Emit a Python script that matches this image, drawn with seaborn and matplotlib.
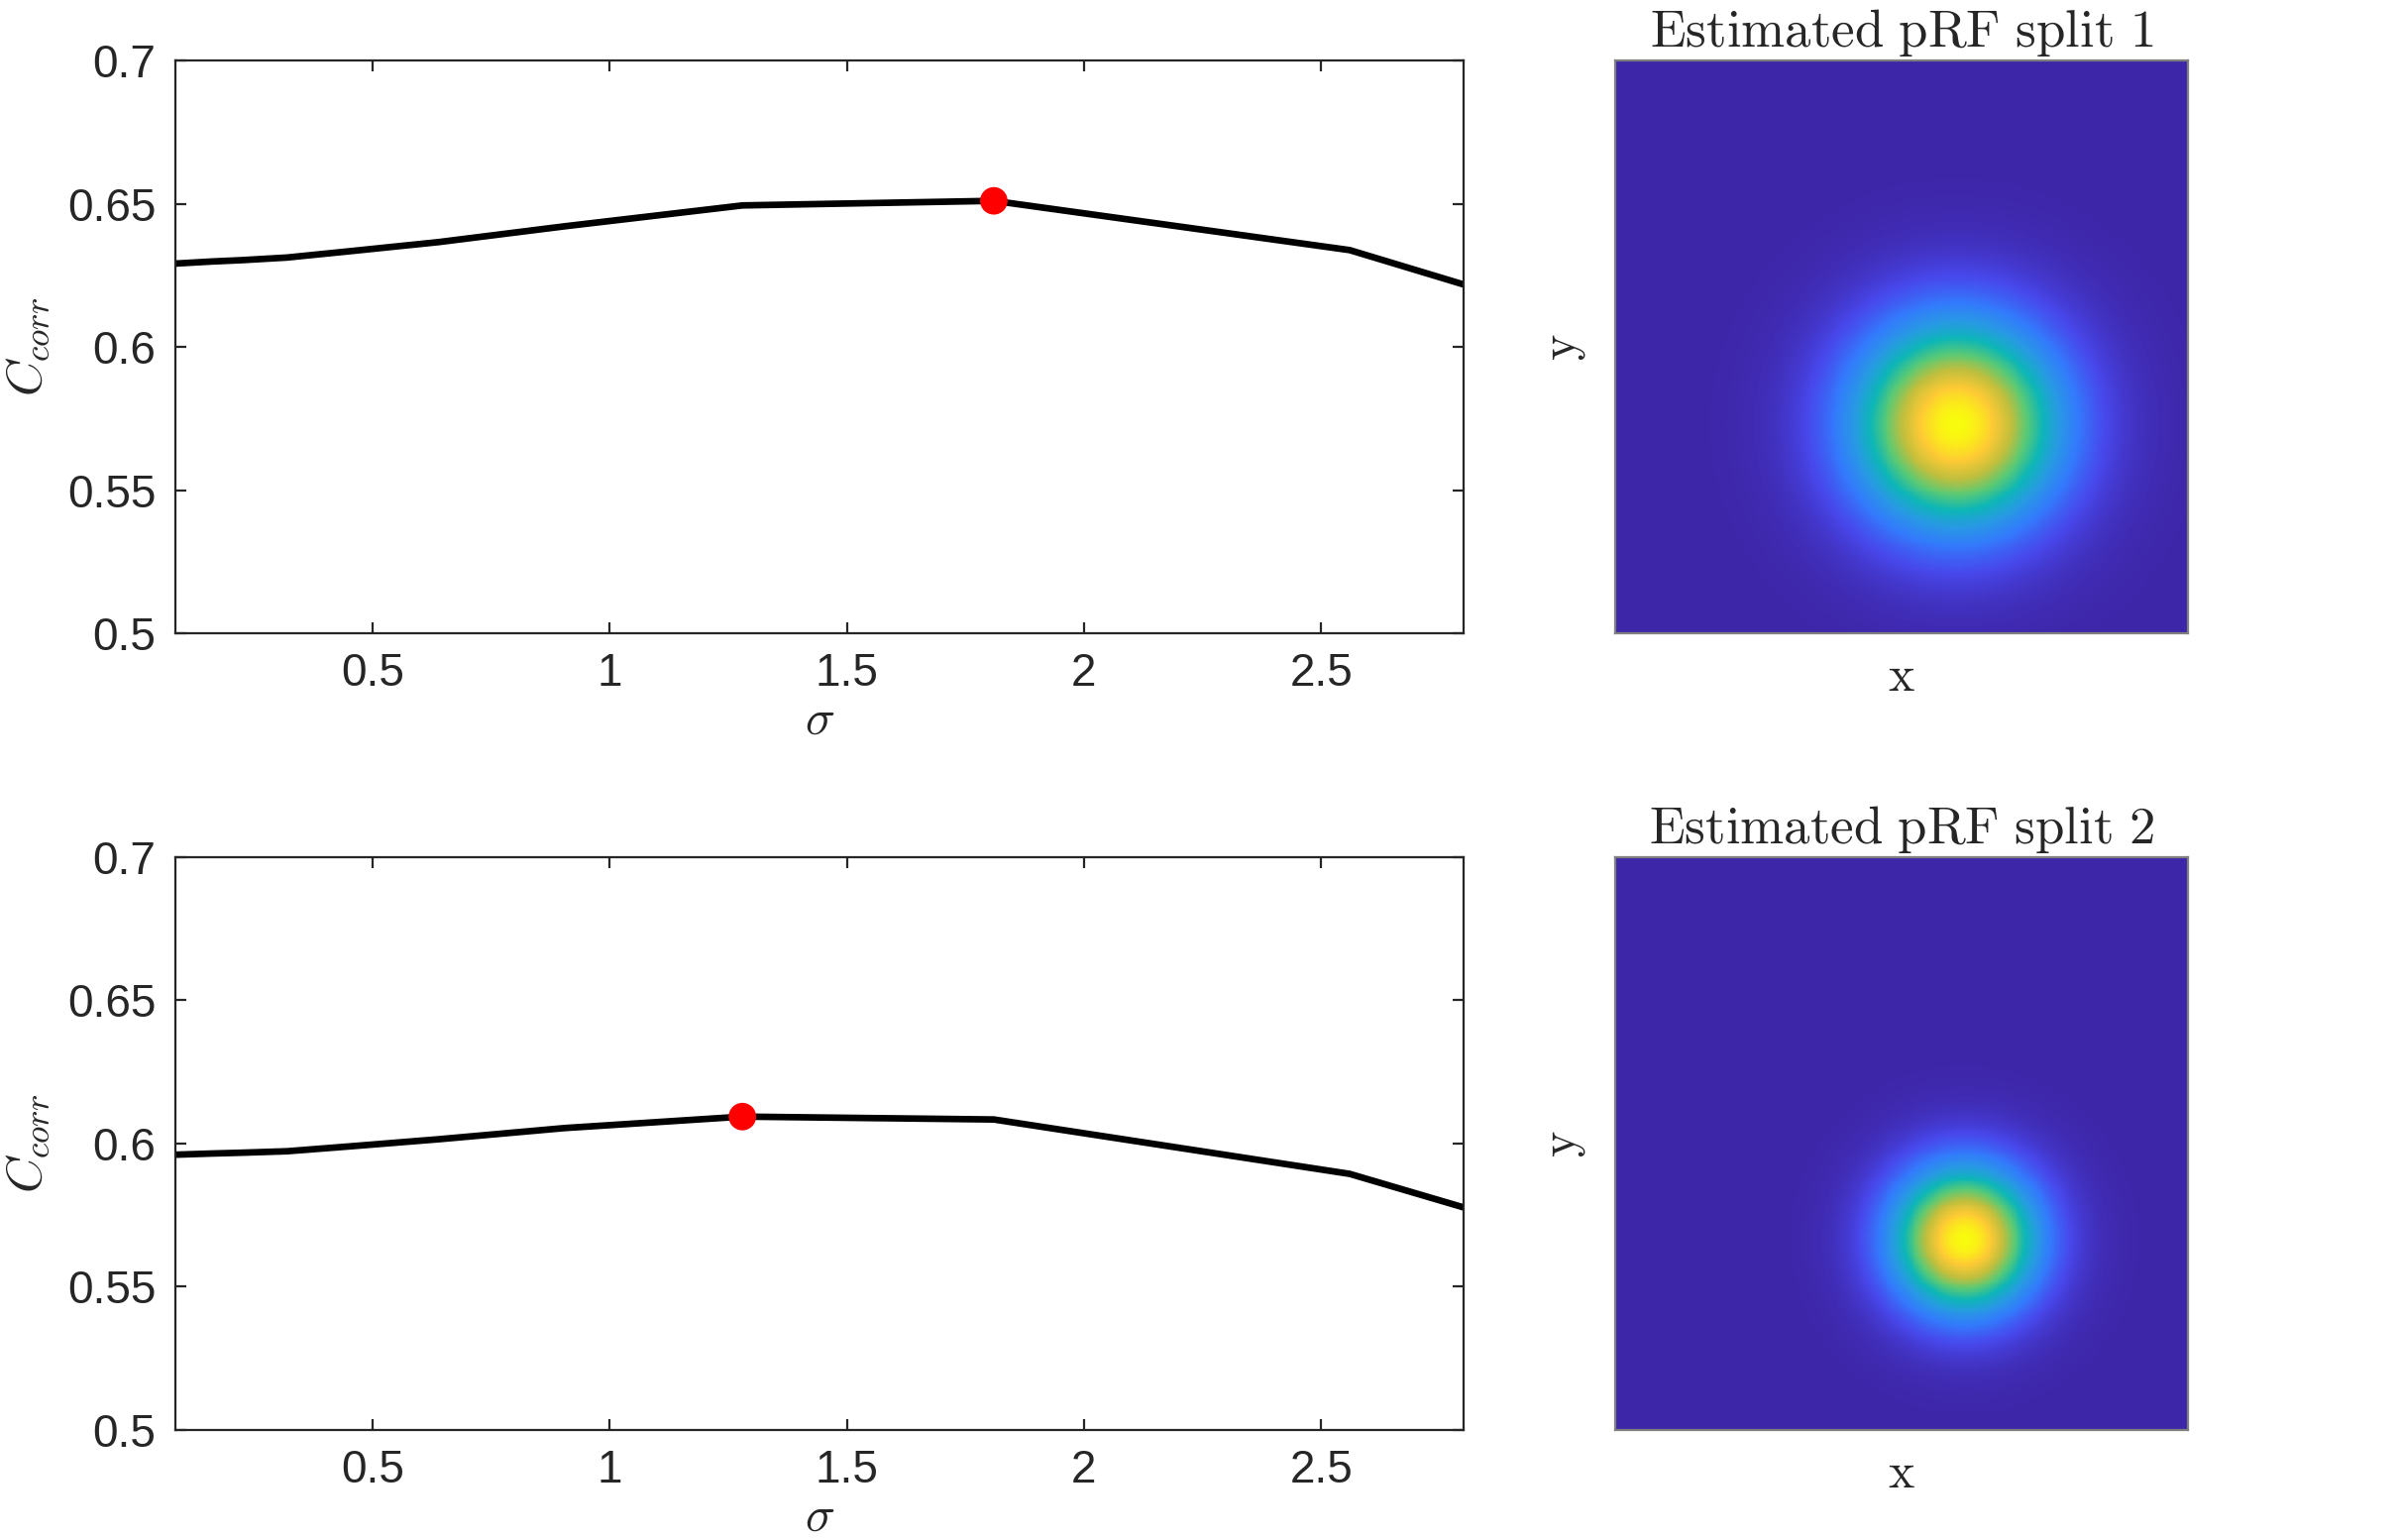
import numpy as np
import pandas as pd
import matplotlib
matplotlib.use("Agg")
import matplotlib.pyplot as plt
from matplotlib.colors import LinearSegmentedColormap
import seaborn as sns

# sigma grid and correlation curves
sigma = [0.085, 0.16, 0.226, 0.32, 0.452, 0.64, 0.905, 1.28, 1.81, 2.56, 2.8]
corr_split1 = [0.6291, 0.6298, 0.6303, 0.6312, 0.6334, 0.6366, 0.6421, 0.6494, 0.6510, 0.6338, 0.6218]
corr_split2 = [0.5961, 0.5965, 0.5968, 0.5973, 0.5990, 0.6015, 0.6054, 0.6094, 0.6084, 0.5894, 0.5777]

# pRF centres (visual field units) for each split
prf_x = [1.35, 1.55]
prf_y = [-1.9, -2.35]
field_half = 7.0

x_ticks = [0.5, 1, 1.5, 2, 2.5]
y_ticks = [0.5, 0.55, 0.6, 0.65, 0.7]
y_ticklabels = ["0.5", "0.55", "0.6", "0.65", "0.7"]
titles = ["Estimated pRF split 1", "Estimated pRF split 2"]

# approximate MATLAB parula
parula = LinearSegmentedColormap.from_list("parula", [
    (0.000, (0.2422, 0.1504, 0.6603)),
    (0.127, (0.2803, 0.2782, 0.9221)),
    (0.254, (0.1986, 0.4789, 0.9883)),
    (0.381, (0.1540, 0.6044, 0.8889)),
    (0.508, (0.0500, 0.7136, 0.7155)),
    (0.635, (0.3500, 0.7900, 0.4600)),
    (0.762, (0.7530, 0.7466, 0.2372)),
    (0.889, (0.9956, 0.7909, 0.2052)),
    (1.000, (0.9763, 0.9831, 0.0538)),
])

sns.set_style("ticks")
plt.rcParams["font.family"] = ["Liberation Sans", "DejaVu Sans"]
plt.rcParams["mathtext.fontset"] = "cm"

fig = plt.figure(figsize=(12.11, 7.77), dpi=200)

line_pos = [[0.0731, 0.5888, 0.5367, 0.3719], [0.0731, 0.0715, 0.5367, 0.3719]]
map_pos = [[0.6730, 0.5888, 0.2386, 0.3719], [0.6730, 0.0715, 0.2386, 0.3719]]
axis_col = "#262626"

for i, corr in enumerate([corr_split1, corr_split2]):
    df = pd.DataFrame({"sigma": sigma, "corr": corr})
    best = df.loc[df["corr"].idxmax()]

    ax = fig.add_axes(line_pos[i])
    sns.lineplot(data=df, x="sigma", y="corr", ax=ax, color="black", linewidth=2.4)
    sns.scatterplot(x=[best["sigma"]], y=[best["corr"]], ax=ax, color="red",
                    s=100, edgecolor="none", zorder=5)
    ax.set_xlim(0.085, 2.8)
    ax.set_ylim(0.5, 0.7)
    ax.set_xticks(x_ticks)
    ax.set_xticklabels(["0.5", "1", "1.5", "2", "2.5"])
    ax.set_yticks(y_ticks)
    ax.set_yticklabels(y_ticklabels)
    ax.tick_params(direction="in", length=4, width=0.8, top=True, right=True,
                   labelsize=16.5, colors=axis_col, labelcolor=axis_col, pad=7)
    for s in ax.spines.values():
        s.set_visible(True)
        s.set_linewidth(0.8)
        s.set_color(axis_col)
    ax.set_xlabel(r"$\sigma$", fontsize=18, labelpad=1)
    ax.set_ylabel(r"$C_{corr}$", fontsize=18, labelpad=6)

    # estimated pRF from best sigma
    grid = np.linspace(-field_half, field_half, 300)
    gx, gy = np.meshgrid(grid, grid[::-1])
    prf = np.exp(-((gx - prf_x[i]) ** 2 + (gy - prf_y[i]) ** 2) / (2 * best["sigma"] ** 2))

    axm = fig.add_axes(map_pos[i])
    sns.heatmap(prf, ax=axm, cmap=parula, vmin=0, vmax=1, cbar=False,
                xticklabels=False, yticklabels=False, rasterized=True)
    axm.set_aspect("auto")
    for s in axm.spines.values():
        s.set_visible(True)
        s.set_linewidth(0.8)
        s.set_color("#7f7f7f")
    axm.set_title(r"$\mathrm{" + titles[i].replace(" ", r"\ ") + "}$", fontsize=19, pad=5)
    axm.set_xlabel(r"$\mathrm{x}$", fontsize=18, labelpad=8)
    axm.set_ylabel(r"$\mathrm{y}$", fontsize=18, labelpad=10)

fig.savefig("out.png", dpi=200)
